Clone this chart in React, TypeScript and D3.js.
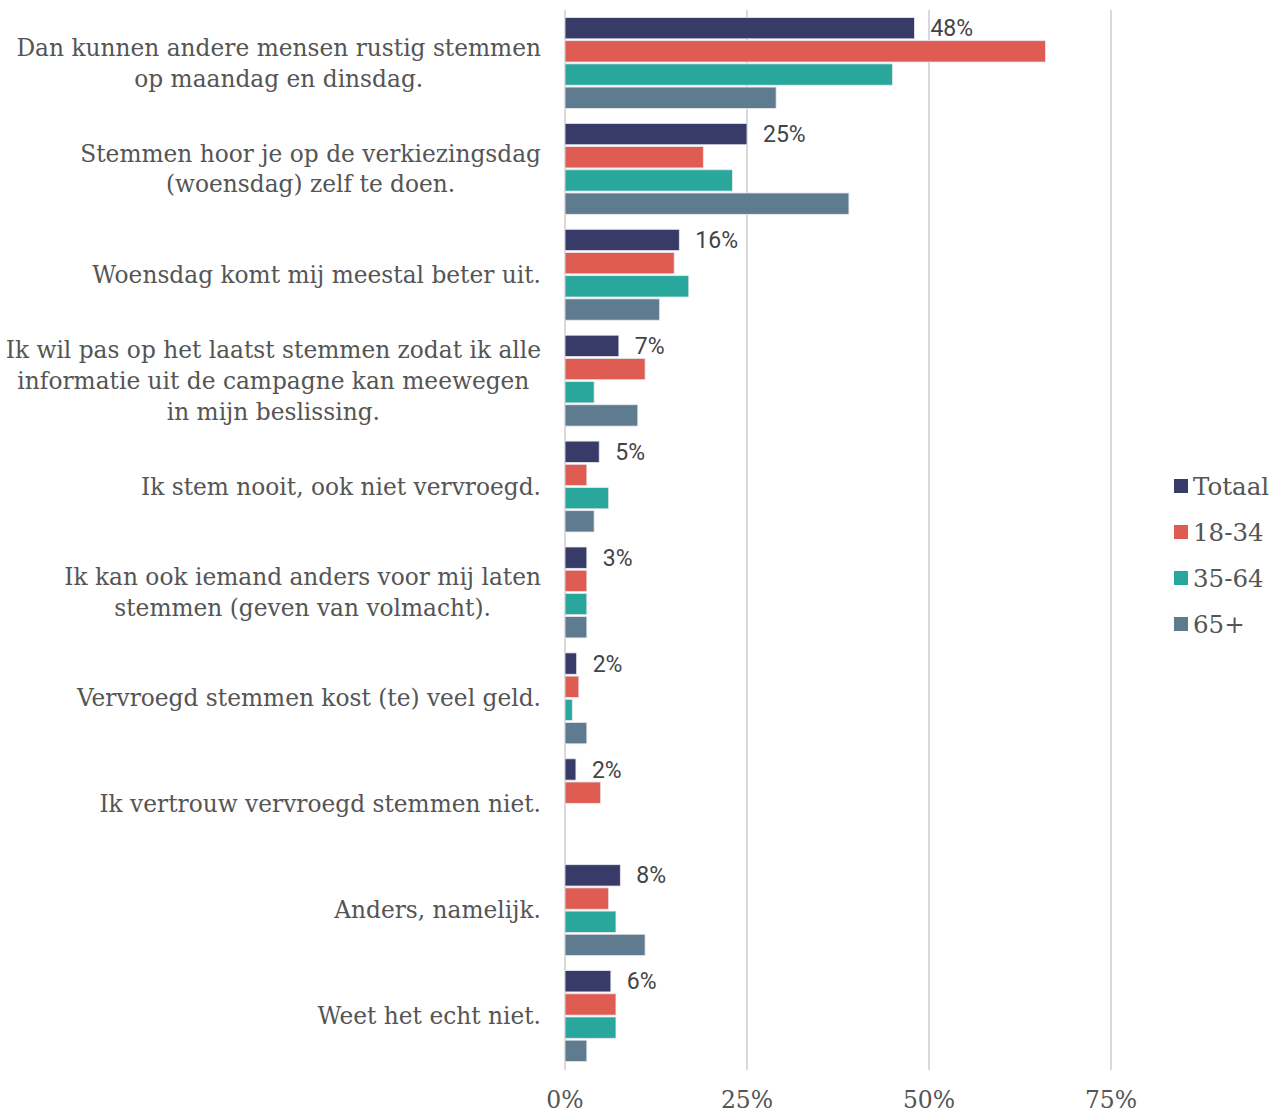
import React, { useLayoutEffect, useRef, useState } from "react";
import * as d3 from "d3";

const categories: string[][] = [
  ["Dan kunnen andere mensen rustig stemmen", "op maandag en dinsdag."],
  ["Stemmen hoor je op de verkiezingsdag", "(woensdag) zelf te doen."],
  ["Woensdag komt mij meestal beter uit."],
  ["Ik wil pas op het laatst stemmen zodat ik alle", "informatie uit de campagne kan meewegen", "in mijn beslissing."],
  ["Ik stem nooit, ook niet vervroegd."],
  ["Ik kan ook iemand anders voor mij laten", "stemmen (geven van volmacht)."],
  ["Vervroegd stemmen kost (te) veel geld."],
  ["Ik vertrouw vervroegd stemmen niet."],
  ["Anders, namelijk."],
  ["Weet het echt niet."],
];

const seriesNames = ["Totaal", "18-34", "35-64", "65+"];
const seriesColors = ["#383a67", "#de5c52", "#2aa79c", "#5f7b8f"];

const totaal = [48, 25, 15.7, 7.4, 4.7, 3, 1.6, 1.5, 7.6, 6.3];
const age18_34 = [66, 19, 15, 11, 3, 3, 1.9, 4.9, 6, 7];
const age35_64 = [45, 23, 17, 4, 6, 3, 1, 0, 7, 7];
const age65plus = [29, 39, 13, 10, 4, 3, 3, 0, 11, 3];

const labelTexts = ["48%", "25%", "16%", "7%", "5%", "3%", "2%", "2%", "8%", "6%"];
const xTicks = [0, 25, 50, 75];

const seriesValues = [totaal, age18_34, age35_64, age65plus];

export default function App() {
  const W = 1288;
  const H = 1113;
  const x = d3.scaleLinear().domain([0, 75]).range([565, 1111]);
  const idx = categories.map((_, i) => i);
  const y = d3.scaleBand<number>().domain(idx).range([10, 1069]).padding(0);
  const inner = d3
    .scaleBand<number>()
    .domain([0, 1, 2, 3])
    .range([7.5, y.bandwidth() - 7.5])
    .paddingInner(0.08);

  const serif = "'DejaVu Serif', 'Liberation Serif', serif";
  const sans = "Roboto, 'Open Sans', sans-serif";
  const textColor = "#555555";
  const labelRight = 541;

  const labelRefs = useRef<(SVGTextElement | null)[]>([]);
  const [blockWidths, setBlockWidths] = useState<number[]>(categories.map(() => 0));

  useLayoutEffect(() => {
    const widths = labelRefs.current.map((el) => {
      if (!el) return 0;
      const spans = Array.from(el.querySelectorAll("tspan")) as SVGTextContentElement[];
      return d3.max(spans, (s) => s.getComputedTextLength()) || 0;
    });
    setBlockWidths(widths);
  }, []);

  return (
    <svg width={W} height={H} style={{ position: "absolute", left: 0, top: 0 }}>
      <rect width={W} height={H} fill="#ffffff" />
      {xTicks.map((t) => (
        <g key={t}>
          <line x1={x(t)} x2={x(t)} y1={10} y2={1070} stroke="#d9d9d9" strokeWidth={2} />
          <text
            x={x(t)}
            y={1108}
            textAnchor="middle"
            fontFamily={serif}
            fontSize={23.5}
            fill={textColor}
          >
            {t}%
          </text>
        </g>
      ))}
      {idx.map((ci) => {
        const cx = labelRight - blockWidths[ci] / 2;
        const n = categories[ci].length;
        return (
          <g key={ci} transform={`translate(0,${y(ci)})`}>
            {seriesValues.map((vals, si) =>
              vals[ci] > 0 ? (
                <rect
                  key={si}
                  x={x(0)}
                  y={inner(si)}
                  width={x(vals[ci]) - x(0)}
                  height={inner.bandwidth()}
                  fill={seriesColors[si]}
                  stroke="#e8e8ee"
                  strokeWidth={0.8}
                />
              ) : null
            )}
            <text
              x={x(totaal[ci]) + 16}
              y={(inner(0) as number) + inner.bandwidth() / 2}
              dy="0.35em"
              fontFamily={sans}
              fontSize={23}
              fill="#444444"
            >
              {labelTexts[ci]}
            </text>
            <text
              ref={(el) => {
                labelRefs.current[ci] = el;
              }}
              x={cx}
              y={y.bandwidth() / 2}
              textAnchor="middle"
              fontFamily={serif}
              fontSize={23.3}
              fill={textColor}
            >
              {categories[ci].map((line, li) => (
                <tspan
                  key={li}
                  x={cx}
                  dy={li === 0 ? `${0.35 - ((n - 1) * 1.33) / 2}em` : "1.33em"}
                >
                  {line}
                </tspan>
              ))}
            </text>
          </g>
        );
      })}
      {seriesNames.map((s, i) => (
        <g key={s} transform={`translate(1174,${486 + i * 46})`}>
          <rect x={0} y={-7} width={14} height={14} fill={seriesColors[i]} />
          <text x={19} y={0} dy="0.35em" fontFamily={serif} fontSize={24.5} fill={textColor}>
            {s}
          </text>
        </g>
      ))}
    </svg>
  );
}
